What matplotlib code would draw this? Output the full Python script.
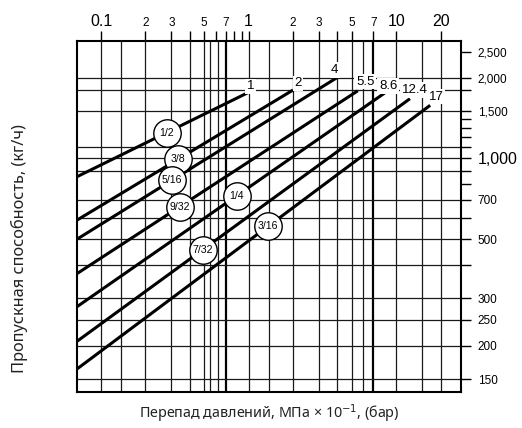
import matplotlib
matplotlib.use('Agg')
import matplotlib.pyplot as plt
import numpy as np

plt.rcParams['font.family'] = ['Liberation Sans', 'DejaVu Sans']

# ---- data ----
sizes = ['1/2', '3/8', '5/16', '9/32', '1/4', '7/32', '3/16']
dp_start = 0.069
dp_end = [1, 2, 4, 5.5, 8.6, 12.4, 17]
end_labels = ['1', '2', '4', '5.5', '8.6', '12.4', '17']
flow_start = [855, 589, 500, 372, 280, 208, 164]
flow_end = [1763, 1798, 2005, 1787, 1772, 1669, 1577]
circle_dp = [0.279, 0.334, 0.303, 0.343, 0.83, 0.488, 1.36]

x_tick_vals = [0.1, 0.2, 0.3, 0.5, 0.7, 1, 2, 3, 5, 7, 10, 20]
x_tick_labels = ['0.1', '2', '3', '5', '7', '1', '2', '3', '5', '7', '10', '20']
x_big_labels = ['0.1', '1', '10', '20']
x_minor_ticks = [0.4, 0.6, 0.8, 0.9, 4]
x_grid = [0.1, 0.137, 0.2, 0.3, 0.4, 0.5, 0.55, 0.62, 1, 1.38, 2, 3, 4, 5, 6, 10, 15, 20]
x_grid_bold = [0.7, 7]

y_tick_vals = [150, 200, 250, 300, 500, 700, 1000, 1500, 2000, 2500]
y_tick_labels = ['150', '200', '250', '300', '500', '700', '1,000', '1,500', '2,000', '2,500']
y_minor_ticks = [400, 600, 800, 900, 1100, 1200, 1300, 1400, 1800]
y_grid = [150, 200, 250, 300, 400, 500, 600, 700, 900, 1000, 1100, 1500, 1800, 2000]

# label offsets (points) for line-end labels
end_offsets = [(1.5, 4.3), (3.6, 4.8), (-1.9, 5.3), (5.3, 6.5), (1.2, 4.1), (3.4, 6.3), (4.3, 6.2)]

fig = plt.figure(figsize=(5.22, 4.28), dpi=100)
ax = fig.add_axes([0.1481, 0.0841, 0.735, 0.8201])
ax.set_xscale('log')
ax.set_yscale('log')
ax.set_xlim(0.069, 27.5)
ax.set_ylim(134.3, 2740)

for v in x_grid:
    ax.axvline(v, color='#1a1a1a', lw=0.9, zorder=1)
for v in x_grid_bold:
    ax.axvline(v, color='black', lw=1.6, zorder=1)
for v in y_grid:
    ax.axhline(v, color='#1a1a1a', lw=0.9, zorder=1)

for i in range(len(sizes)):
    xs = [dp_start, dp_end[i]]
    ys = [flow_start[i], flow_end[i]]
    ax.plot(xs, ys, color='black', lw=2.2, solid_capstyle='butt', zorder=3)
    # circle label on the line
    lx0, lx1 = np.log10(xs)
    ly0, ly1 = np.log10(ys)
    t = (np.log10(circle_dp[i]) - lx0) / (lx1 - lx0)
    cy = 10 ** (ly0 + t * (ly1 - ly0))
    ax.scatter([circle_dp[i]], [cy], s=390, facecolor='white', edgecolor='black',
               lw=1.0, zorder=4)
    ax.text(circle_dp[i], cy, sizes[i], ha='center', va='center', fontsize=7.6, zorder=5)
    ax.annotate(end_labels[i], xy=(dp_end[i], flow_end[i]), xytext=end_offsets[i],
                textcoords='offset points', ha='center', va='center', fontsize=9.5,
                zorder=5,
                bbox=dict(boxstyle='square,pad=0.12', facecolor='white', edgecolor='none'))

# axes ticks
ax.xaxis.tick_top()
ax.set_xticks(x_tick_vals)
ax.set_xticklabels(x_tick_labels)
ax.set_xticks(x_minor_ticks, minor=True)
ax.xaxis.set_minor_formatter(plt.NullFormatter())
for lab in ax.get_xticklabels():
    lab.set_fontsize(11.5 if lab.get_text() in x_big_labels else 8.5)
ax.tick_params(axis='x', which='both', direction='out', length=7, width=1, pad=2,
               top=True, bottom=False)

ax.yaxis.tick_right()
ax.set_yticks(y_tick_vals)
ax.set_yticklabels(y_tick_labels)
ax.set_yticks(y_minor_ticks, minor=True)
ax.yaxis.set_minor_formatter(plt.NullFormatter())
for lab in ax.get_yticklabels():
    lab.set_fontsize(11.5 if lab.get_text() == '1,000' else 8.5)
ax.tick_params(axis='y', which='both', direction='out', length=7, width=1, pad=5,
               right=True, left=False)

for sp in ax.spines.values():
    sp.set_linewidth(1.5)

fig.text(0.515, 0.033, 'Перепад давлений, МПа × 10$^{-1}$, (бар)', ha='center', va='center',
         fontsize=10.3, family=['Noto Sans', 'DejaVu Sans'], color='#222')
fig.text(0.038, 0.42, 'Пропускная способность, (кг/ч)', ha='center', va='center',
         rotation=90, fontsize=11.8, family=['Noto Sans', 'DejaVu Sans'], color='#222')

fig.savefig('out.png', dpi=100)
